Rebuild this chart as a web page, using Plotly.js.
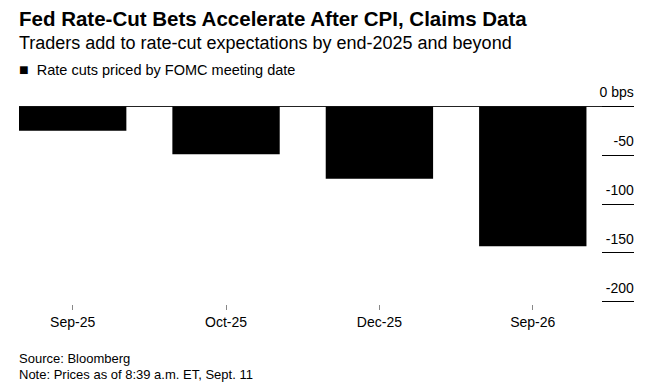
<!DOCTYPE html>
<html>
<head>
<meta charset="utf-8">
<script src="https://cdn.plot.ly/plotly-3.0.1.min.js"></script>
<style>html,body{margin:0;padding:0;background:#fff;}#chart{width:654px;height:385px;}</style>
</head>
<body>
<div id="chart"></div>
<script>
const categories = ["Sep-25", "Oct-25", "Dec-25", "Sep-26"];
const rateCuts = [-25, -49, -74, -143];
const yTickValues = [0, -50, -100, -150, -200];
const yTickLabels = ["0 bps", "-50", "-100", "-150", "-200"];
const seriesName = "Rate cuts priced by FOMC meeting date";
const titleText = "Fed Rate-Cut Bets Accelerate After CPI, Claims Data";
const subtitleText = "Traders add to rate-cut expectations by end-2025 and beyond";
const sourceText = "Source: Bloomberg";
const noteText = "Note: Prices as of 8:39 a.m. ET, Sept. 11";

const FONT = "'Liberation Sans', Arial, Helvetica, sans-serif";

const trace = {
  type: "bar",
  x: categories,
  y: rateCuts,
  name: seriesName,
  marker: {color: "#000000", line: {width: 0}},
  showlegend: false,
  hoverinfo: "x+y"
};

// plot area: top 80px, bottom 304px -> paper y = (304 - px) / 224
const py = px => (304 - px) / 224;

const layout = {
  width: 654,
  height: 385,
  margin: {l: 19, r: 20, t: 80, b: 81, pad: 0},
  paper_bgcolor: "#ffffff",
  plot_bgcolor: "#ffffff",
  font: {family: FONT, size: 14, color: "#000"},
  bargap: 0.3,
  showlegend: false,
  xaxis: {
    type: "category",
    range: [-0.35, 3.66],
    showgrid: false,
    zeroline: false,
    showline: false,
    ticks: "outside",
    ticklen: 5,
    tickwidth: 1,
    tickcolor: "#888888",
    tickfont: {family: FONT, size: 14, color: "#000"},
    fixedrange: true
  },
  yaxis: {
    side: "right",
    range: [-202.2, 27],
    tickvals: yTickValues,
    ticktext: yTickLabels,
    showgrid: false,
    zeroline: true,
    zerolinecolor: "#222222",
    zerolinewidth: 1,
    showline: false,
    ticks: "inside",
    ticklen: 32,
    tickwidth: 1,
    tickcolor: "#000000",
    ticklabelposition: "inside",
    ticklabelshift: -14,
    ticklabelstandoff: -32,
    tickfont: {family: FONT, size: 14, color: "#000"},
    fixedrange: true
  },
  annotations: [
    {text: "<b>" + titleText + "</b>", xref: "paper", yref: "paper", x: -0.003, y: py(18),
     xanchor: "left", yanchor: "middle", showarrow: false, font: {family: FONT, size: 20.5, color: "#000"}},
    {text: subtitleText, xref: "paper", yref: "paper", x: -0.003, y: py(43),
     xanchor: "left", yanchor: "middle", showarrow: false, font: {family: FONT, size: 18, color: "#000"}},
    {text: "<span style='font-size:16px'>■</span>\u00a0 " + seriesName, xref: "paper", yref: "paper", x: -0.003, y: py(70),
     xanchor: "left", yanchor: "middle", showarrow: false, font: {family: FONT, size: 14.5, color: "#000"}},
    {text: sourceText, xref: "paper", yref: "paper", x: -0.003, y: py(358),
     xanchor: "left", yanchor: "middle", showarrow: false, font: {family: FONT, size: 13, color: "#000"}},
    {text: noteText, xref: "paper", yref: "paper", x: -0.003, y: py(374),
     xanchor: "left", yanchor: "middle", showarrow: false, font: {family: FONT, size: 13, color: "#000"}}
  ]
};

Plotly.newPlot("chart", [trace], layout, {displayModeBar: false, staticPlot: true});
</script>
</body>
</html>
